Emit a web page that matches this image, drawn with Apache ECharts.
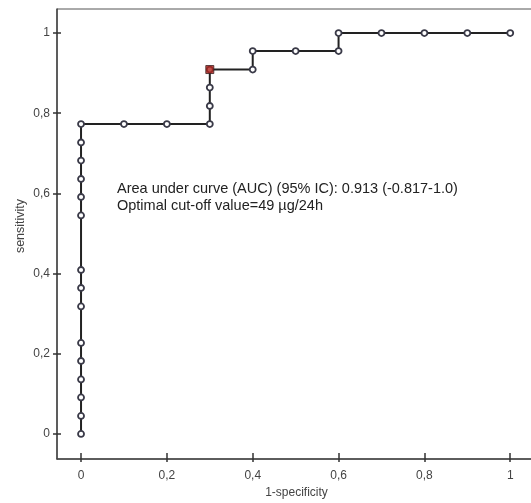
<!DOCTYPE html>
<html><head><meta charset="utf-8">
<script src="https://cdn.jsdelivr.net/npm/echarts@6/dist/echarts.min.js"></script>
<style>html,body{margin:0;padding:0;background:#fff}#c{width:531px;height:503px}</style>
</head><body><div id="c"></div>
<script>
const xValues = [0,0,0,0,0,0,0,0,0,0,0,0,0,0,0,0.1,0.2,0.3,0.3,0.3,0.3,0.4,0.4,0.5,0.6,0.6,0.7,0.8,0.9,1];
const yValues = [0,0.045,0.091,0.136,0.182,0.227,0.318,0.364,0.409,0.545,0.591,0.636,0.682,0.727,0.773,0.773,0.773,0.773,0.818,0.864,0.909,0.909,0.955,0.955,0.955,1,1,1,1,1];
const optimalPoint = [0.3, 0.909];
const xTicks = [0,0.2,0.4,0.6,0.8,1];
const yTicks = [0,0.2,0.4,0.6,0.8,1];
const noteLines = ['Area under curve (AUC) (95% IC): 0.913 (-0.817-1.0)','Optimal cut-off value=49 µg/24h'];

const fmt = v => String(Math.round(v*10)/10).replace('.', ',');
const chart = echarts.init(document.getElementById('c'));
const FF = 'Liberation Sans, Arial, sans-serif';
const labelStyle = {color:'#444', fontSize:12, fontFamily:FF};
const gridDef = {left:57, top:9, width:479, height:450, show:true, borderColor:'#555', borderWidth:1,
  containLabel:false, outerBoundsMode:'none'};
const xBase = {type:'value', min:-0.056, max:1.06, gridIndex:0};
const yBase = {type:'value', min:-0.0625, max:1.06, gridIndex:0};
chart.setOption({
  animation:false,
  grid:[gridDef],
  xAxis:[
    Object.assign({}, xBase, {
      name:'1-specificity', nameLocation:'middle', nameGap:28,
      nameTextStyle:{color:'#444', fontSize:12, fontFamily:FF},
      axisLine:{show:true, onZero:false, lineStyle:{color:'#444', width:1.5}},
      axisTick:{show:true, inside:true, length:6, lineStyle:{color:'#333', width:1.5}, customValues: xTicks},
      axisLabel:Object.assign({margin:11, formatter:fmt, customValues: xTicks}, labelStyle),
      splitLine:{show:false}
    }),
    Object.assign({}, xBase, {
      position:'bottom',
      axisLine:{show:false, onZero:false},
      axisTick:{show:true, inside:false, length:3, lineStyle:{color:'#333', width:1.5}, customValues: xTicks},
      axisLabel:{show:false},
      splitLine:{show:false}
    })
  ],
  yAxis:[
    Object.assign({}, yBase, {
      name:'sensitivity', nameLocation:'middle', nameGap:30, nameRotate:90, nameMoveOverlap:false,
      nameTextStyle:{color:'#444', fontSize:12.5, fontFamily:FF, padding:[0,0,0,16]},
      axisLine:{show:true, onZero:false, lineStyle:{color:'#444', width:1.5}},
      axisTick:{show:true, inside:true, length:4, lineStyle:{color:'#333', width:1.5}, customValues: yTicks},
      axisLabel:Object.assign({margin:7, formatter:fmt, customValues: yTicks}, labelStyle),
      splitLine:{show:false}
    }),
    Object.assign({}, yBase, {
      position:'left',
      axisLine:{show:false, onZero:false},
      axisTick:{show:true, inside:false, length:4, lineStyle:{color:'#333', width:1.5}, customValues: yTicks},
      axisLabel:{show:false},
      splitLine:{show:false}
    })
  ],
  series:[
    {
      type:'line', xAxisIndex:0, yAxisIndex:0,
      data: xValues.map((x,i)=>[x, yValues[i]]),
      symbol:'circle', symbolSize:6, showAllSymbol:true,
      lineStyle:{color:'#222', width:2},
      itemStyle:{color:'#fff', borderColor:'#3a3a48', borderWidth:1.8},
      z:3
    },
    {
      type:'scatter', xAxisIndex:0, yAxisIndex:0,
      data:[optimalPoint],
      symbol:'rect', symbolSize:8,
      itemStyle:{color:'#b3261e', borderColor:'#3a2020', borderWidth:1},
      z:5
    }
  ],
  graphic:[{
    type:'text', left:117, top:180,
    style:{text: noteLines.join('\n'), fill:'#222', fontSize:14.5, lineHeight:17, fontFamily:FF}
  }]
});
</script></body></html>
